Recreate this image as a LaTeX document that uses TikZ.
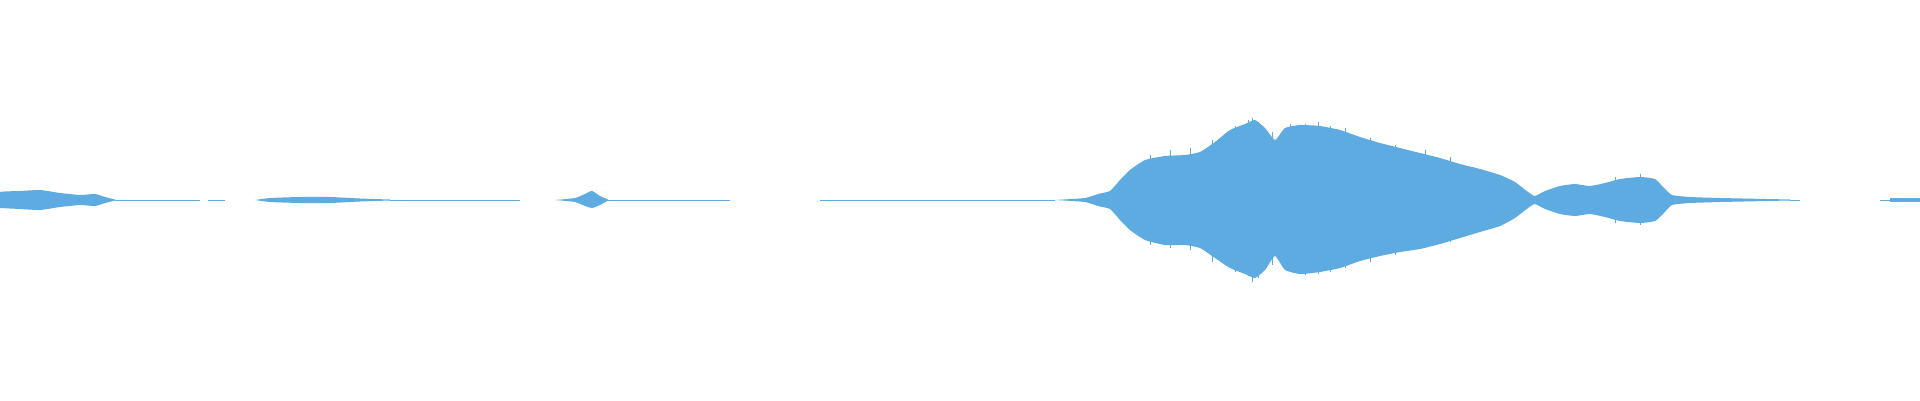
\documentclass[tikz,border=0pt]{standalone}
\definecolor{wave}{HTML}{5EABE2}
\begin{document}
\begin{tikzpicture}[x=1pt,y=-1pt,wv/.style={fill=wave,draw=wave,line width=0.4pt}]
\useasboundingbox (0,0) rectangle (1920,400);
\def\env{(0,8) (20,9) (40,10) (60,7) (80,5) (95,6) (105,3) (115,1) (200,0.6) (240,0.6) (260,2) (300,3) (330,3) (360,1.5) (390,0.8) (550,1) (570,3) (585,7) (592,9) (600,4) (610,1) (730,0.6) (1050,1) (1085,2) (1098,6) (1110,9) (1120,20) (1130,30) (1145,40) (1165,45) (1185,45) (1200,48) (1215,58) (1230,70) (1245,78) (1255,82) (1265,74) (1275,62) (1285,72) (1300,76) (1320,74) (1340,70) (1360,63) (1380,58) (1400,52) (1420,47) (1440,42) (1460,36) (1480,31) (1500,25) (1515,18) (1528,8) (1535,4) (1545,9) (1560,14) (1575,16) (1590,14) (1605,17) (1620,21) (1640,23) (1655,21) (1663,13) (1672,5) (1690,3) (1720,2) (1790,1) (1800,0.5)}
% upper
\fill[wave] plot[smooth,tension=0.3] coordinates {(0,200) (0,192) (20,191) (40,190) (60,193) (80,195) (95,194) (105,197) (115,199.5)} -- (115,200.5) -- plot[smooth,tension=0.3] coordinates {(105,203) (95,206) (80,205) (60,207) (40,210) (20,209) (0,208)} -- cycle;
\fill[wave] plot[smooth,tension=0.3] coordinates {(255,200) (270,198) (300,197) (330,197) (360,198.5) (390,199.5)} -- plot[smooth,tension=0.3] coordinates {(390,200.5) (360,201.5) (330,203) (300,203) (270,202) (255,200)} -- cycle;
\fill[wave] plot[smooth,tension=0.4] coordinates {(555,200) (575,198) (585,194) (592,191) (600,196) (608,199.5)} -- plot[smooth,tension=0.4] coordinates {(608,200.5) (600,205) (592,208) (585,206) (575,202) (555,200)} -- cycle;
\fill[wave] plot[smooth,tension=0.3] coordinates {(1055,200) (1085,198) (1098,194) (1110,191) (1120,180) (1130,170) (1145,160) (1165,156) (1185,155) (1200,152) (1215,142) (1230,130) (1245,124) (1255,120) (1265,128) (1275,140) (1285,128) (1300,125) (1320,126) (1340,130) (1360,137) (1380,143) (1400,148) (1420,153) (1440,158) (1460,164) (1480,169) (1500,175) (1515,182) (1528,192) (1535,196) (1545,191) (1560,186) (1575,184) (1590,186) (1605,183) (1620,179) (1640,177) (1655,179) (1663,187) (1672,195) (1690,197) (1720,198) (1790,199.5)} -- (1790,200.5) -- plot[smooth,tension=0.3] coordinates {(1720,202) (1690,203) (1672,205) (1663,214) (1655,221) (1640,223) (1620,221) (1605,217) (1590,214) (1575,216) (1560,214) (1545,209) (1535,204) (1528,208) (1515,218) (1500,226) (1480,232) (1460,238) (1440,244) (1420,249) (1400,252) (1380,256) (1360,261) (1340,268) (1320,272) (1300,274) (1285,270) (1275,256) (1265,270) (1255,278) (1245,274) (1230,268) (1215,258) (1200,248) (1185,245) (1165,245) (1145,240) (1130,230) (1120,220) (1110,209) (1098,206) (1085,202) (1055,200)} -- cycle;
% spikes
\foreach \x/\a/\b in {1150/155/245,1170/150/248,1190/148/250,1212/140/262,1235/126/272,1248/120/276,1252/118/282,1258/122/278,1272/132/265,1290/124/272,1305/124/275,1318/122/274,1330/126/272,1345/128/268,1370/138/262,1395/145/255,1425/150/248,1450/157/242,1615/177/223,1640/174/225}
  \draw[wave,line width=0.7pt] (\x,\a) -- (\x,\b);
% thin baseline pieces
\draw[wave,line width=0.8pt] (115,200) -- (200,200) (208,200) -- (225,200) (390,200) -- (520,200) (608,200) -- (730,200) (820,200) -- (1055,200) (1790,200) -- (1800,200) (1880,200) -- (1920,200);
\fill[wave] (1890,198) rectangle (1920,202);
\end{tikzpicture}
\end{document}
